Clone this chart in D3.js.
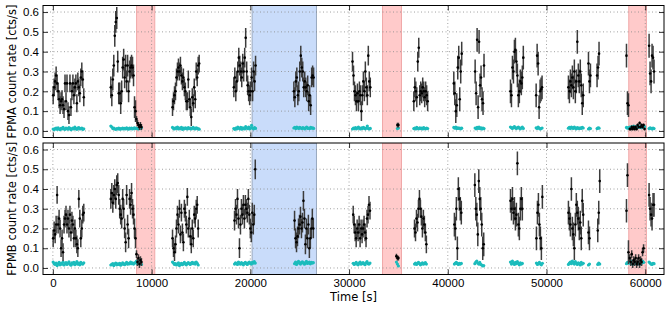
<!DOCTYPE html>
<html>
<head>
<meta charset="utf-8">
<script src="https://cdn.jsdelivr.net/npm/d3@7"></script>
<style>
  body { margin: 0; background: #fff; }
  svg { display: block; font-family: "DejaVu Sans", sans-serif; }
</style>
</head>
<body>
<div id="chart"></div>
<script>
// light curve bins are 100 s wide; each segment = one continuous stretch of bins
const binWidth = 100;

const xTicks = [0, 10000, 20000, 30000, 40000, 50000, 60000];
const yTicks = [0.0, 0.1, 0.2, 0.3, 0.4, 0.5, 0.6];

const redSpans = [[8480, 10320], [33390, 35310], [58330, 60120]];
const blueSpans = [[20180, 26700]];

// FPMA source + background
const fpmaStart = [30, 5870, 8470, 12120, 18330, 24410, 30350, 34900, 36560, 40610, 42770, 46350, 48950, 52220, 54250, 55120, 58100, 58430, 60390];
const fpmaErr = [0.045, 0.055, 0.015, 0.045, 0.05, 0.05, 0.05, 0.012, 0.05, 0.06, 0.06, 0.06, 0.06, 0.06, 0.06, 0.06, 0.06, 0.008, 0.06];
const fpmaRate = [
  [0.18,0.22,0.25,0.28,0.24,0.20,0.16,0.13,0.15,0.16,0.13,0.11,0.24,0.15,0.24,0.10,0.08,0.24,0.12,0.20,0.24,0.18,0.22,0.24,0.14,0.25,0.22,0.19,0.27,0.30,0.26,0.17],
  [0.22,0.18,0.26,0.33,0.48,0.55,0.57,0.35,0.19,0.19,0.14,0.20,0.32,0.36,0.27,0.33,0.25,0.33,0.20,0.30,0.32,0.33,0.32,0.28,0.12,0.10],
  [0.06,0.04,0.03,0.02,0.03,0.02],
  [0.12,0.15,0.18,0.20,0.27,0.30,0.32,0.30,0.33,0.28,0.25,0.27,0.22,0.20,0.15,0.15,0.26,0.16,0.12,0.07,0.17,0.14,0.22,0.16,0.30,0.27,0.33,0.34],
  [0.22,0.27,0.20,0.25,0.30,0.37,0.33,0.30,0.27,0.34,0.30,0.37,0.47,0.30,0.23,0.20,0.18,0.20,0.27,0.20,0.30,0.25,0.33],
  [0.20,0.17,0.25,0.27,0.18,0.20,0.30,0.38,0.32,0.30,0.22,0.25,0.22,0.20,0.23,0.15,0.18,0.13,0.27,0.28,0.27],
  [0.35,0.28,0.20,0.18,0.15,0.19,0.15,0.20,0.18,0.10,0.18,0.25,0.20,0.30,0.22,0.18,0.38,0.25,0.22],
  [0.03,0.03],
  [0.15,0.22,0.20,0.17,0.35,0.42,0.18,0.20,0.19,0.22,0.20,0.17,0.20,0.18,0.15],
  [0.24,0.19,0.10,0.13,0.32,0.37,0.16,0.30,0.39],
  [0.30,0.19,0.46,0.12,0.45,0.23,0.27,0.16,0.14,0.33],
  [0.20,0.18,0.32,0.30,0.40,0.41,0.35,0.28,0.18,0.20,0.25,0.24,0.27,0.37],
  [0.18,0.38,0.34,0.12,0.20,0.21,0.22],
  [0.22,0.20,0.25,0.23,0.27,0.22,0.30,0.20,0.25,0.45,0.28,0.25,0.30,0.23,0.14,0.18],
  [0.34,0.25,0.28],
  [0.28,0.32,0.39],
  [0.38,0.14,0.13],
  [0.01,0.01,0.02,0.01,0.02,0.01,0.02,0.01,0.03,0.02,0.04,0.02,0.03,0.02,0.03,0.01],
  [0.43,0.29,0.25,0.38,0.37,0.30]
];
const fpmaBkg = [
  [.010,.006,.012,.015,.008,.016,.010,.006,.013,.011,.018,.010,.008,.015,.012,.009,.017,.013,.006,.011,.015,.010,.019,.012,.008,.014,.017,.010,.012,.015,.008,.011],
  [.025,.020,.012,.015,.010,.008,.012,.010,.014,.009,.012,.010,.015,.011,.013,.010,.016,.012,.009,.014,.012,.015,.010,.013,.016,.012],
  [.015,.012,.010,.014,.012,.016],
  [.018,.012,.010,.016,.013,.020,.010,.015,.012,.018,.008,.014,.011,.016,.013,.010,.017,.012,.015,.010,.014,.018,.012,.010,.016,.013,.011,.009],
  [.012,.008,.015,.010,.020,.014,.011,.018,.009,.016,.013,.010,.022,.015,.012,.019,.010,.016,.028,.014,.011,.017,.013],
  [.015,.018,.012,.020,.016,.013,.018,.015,.012,.017,.014,.011,.016,.019,.013,.015,.012,.018,.014,.016,.013],
  [.010,.014,.012,.017,.011,.015,.020,.013,.010,.016,.012,.018,.014,.011,.015,.025,.012,.010,.013],
  [.012,.015],
  [.012,.015,.010,.018,.013,.011,.016,.012,.014,.010,.017,.013,.011,.015,.012],
  [.018,.014,.020,.012,.016,.013,.015,.011,.014],
  [.015,.011,.018,.013,.020,.012,.016,.010,.014,.012],
  [.020,.016,.013,.018,.022,.015,.012,.017,.020,.014,.011,.016,.019,.013],
  [.016,.013,.019,.014,.010,.012,.015],
  [.014,.018,.012,.020,.016,.013,.019,.015,.011,.017,.014,.012,.016,.013,.018,.015],
  [.010,.014,.012],
  [.012,.016,.014],
  [.018,.014,.016],
  [.020,.015,.022,.018,.025,.016,.019,.023,.017,.021,.018,.024,.016,.020,.019,.022],
  [.012,.016,.013,.010,.015,.012]
];

// FPMB source + background
const fpmbStart = [30, 5870, 8470, 12120, 18400, 24480, 30420, 34800, 36630, 40670, 42740, 46350, 48980, 52220, 54250, 55190, 58100, 58430, 60390];
const fpmbErr = [0.045, 0.05, 0.02, 0.045, 0.05, 0.05, 0.045, 0.012, 0.045, 0.06, 0.06, 0.06, 0.06, 0.06, 0.06, 0.06, 0.06, 0.02, 0.06];
const fpmbRate = [
  [0.15,0.19,0.17,0.22,0.37,0.22,0.25,0.20,0.10,0.15,0.08,0.22,0.25,0.27,0.22,0.25,0.20,0.27,0.18,0.24,0.22,0.15,0.20,0.15,0.12,0.10,0.35,0.25,0.15,0.20,0.27,0.28],
  [0.35,0.38,0.33,0.37,0.40,0.35,0.42,0.43,0.37,0.30,0.27,0.25,0.35,0.30,0.20,0.13,0.37,0.22,0.15,0.35,0.32,0.38,0.30,0.27,0.20,0.15],
  [0.07,0.03,0.05,0.02,0.04,0.03],
  [0.15,0.10,0.08,0.12,0.20,0.27,0.22,0.30,0.17,0.28,0.18,0.13,0.30,0.28,0.22,0.36,0.20,0.25,0.16,0.12,0.20,0.15,0.27,0.25,0.30,0.32,0.20],
  [0.24,0.30,0.27,0.35,0.25,0.10,0.22,0.30,0.27,0.32,0.25,0.32,0.30,0.28,0.35,0.27,0.20,0.18,0.28,0.22,0.27,0.50],
  [0.24,0.15,0.13,0.16,0.20,0.22,0.26,0.20,0.23,0.34,0.25,0.12,0.20,0.15,0.22,0.10,0.15,0.20,0.25,0.20],
  [0.27,0.22,0.18,0.15,0.20,0.18,0.22,0.15,0.20,0.17,0.20,0.22,0.18,0.15,0.25,0.27,0.32,0.29],
  [0.06,0.05,0.05],
  [0.20,0.18,0.25,0.23,0.30,0.35,0.30,0.26,0.20,0.25,0.22,0.18,0.12],
  [0.22,0.20,0.30,0.10,0.40,0.35,0.30,0.28],
  [0.42,0.30,0.27,0.17,0.44,0.35,0.30,0.22,0.10,0.12],
  [0.34,0.30,0.35,0.28,0.30,0.25,0.27,0.53,0.22,0.20,0.30,0.35,0.30],
  [0.15,0.28,0.32,0.22,0.15,0.10,0.36],
  [0.28,0.25,0.22,0.40,0.20,0.17,0.10,0.22,0.32,0.28,0.25,0.20,0.23,0.15,0.34,0.27],
  [0.18,0.15],
  [0.19,0.28,0.44],
  [0.29,0.47,0.08],
  [0.05,0.03,0.07,0.02,0.04,0.03,0.05,0.02,0.03,0.05,0.02,0.04,0.03,0.08,0.10],
  [0.37,0.30,0.27,0.25,0.32,0.32]
];
const fpmbBkg = [
  [.030,.022,.018,.025,.012,.020,.028,.016,.024,.019,.030,.015,.022,.027,.018,.024,.031,.020,.014,.026,.021,.029,.017,.023,.032,.019,.025,.016,.028,.022,.020,.026],
  [.015,.018,.022,.012,.020,.025,.016,.021,.018,.024,.014,.019,.026,.020,.017,.023,.028,.019,.024,.021,.030,.022,.026,.020,.024,.028],
  [.035,.020,.040,.025,.030,.018],
  [.030,.025,.018,.022,.015,.020,.026,.012,.019,.024,.017,.022,.028,.020,.016,.023,.027,.021,.018,.025,.029,.022,.026,.020,.030,.024,.015],
  [.020,.026,.022,.018,.030,.024,.019,.027,.022,.016,.025,.029,.021,.018,.026,.030,.023,.020,.028,.024,.032,.025],
  [.022,.030,.018,.026,.034,.024,.020,.028,.031,.025,.019,.027,.033,.023,.026,.030,.021,.029,.025,.027],
  [.024,.018,.022,.028,.020,.016,.025,.030,.019,.023,.027,.021,.017,.026,.032,.022,.020,.025],
  [.030,.020,.010],
  [.020,.025,.018,.022,.028,.024,.016,.021,.026,.019,.023,.027,.020],
  [.020,.025,.028,.022,.018,.024,.020,.023],
  [.022,.030,.035,.025,.020,.028,.018,.015,.010,.012],
  [.030,.020,.035,.025,.018,.028,.022,.032,.024,.016,.026,.020,.023],
  [.025,.018,.022,.028,.020,.016,.024],
  [.018,.025,.030,.022,.035,.028,.020,.032,.024,.018,.026,.022,.015,.028,.020,.024],
  [.015,.020],
  [.018,.025,.020],
  [.022,.028,.025],
  [.030,.022,.035,.018,.028,.040,.025,.020,.032,.026,.018,.030,.024,.035,.028],
  [.030,.025,.020,.018,.024,.022]
];

const W = 672, H = 311;
const left = 43, right = 664;

const svg = d3.select('#chart').append('svg')
    .attr('width', W)
    .attr('height', H);

const x = d3.scaleLinear()
    .domain([-1000, 61900])
    .range([left, right]);

// turn segment arrays into flat point lists
function toPoints(starts, errs, rates) {
    const pts = [];
    rates.forEach((seg, s) => {
        seg.forEach((r, i) => {
            pts.push({ t: starts[s] + i * binWidth, r: r, e: errs[s] });
        });
    });
    return pts;
}

function drawPanel(top, bottom, name, starts, errs, rates, bkg, showX) {
    const y = d3.scaleLinear()
        .domain([-0.033, 0.633])
        .range([bottom, top]);

    const g = svg.append('g');
    const clipId = 'clip-' + name;
    svg.append('clipPath').attr('id', clipId)
        .append('rect')
        .attr('x', left).attr('y', top)
        .attr('width', right - left).attr('height', bottom - top);

    const plot = g.append('g').attr('clip-path', `url(#${clipId})`);

    // shaded intervals
    const spans = redSpans.map(d => ({ a: d[0], b: d[1], fill: '#ffcaca', edge: '#f0a8a8' }))
        .concat(blueSpans.map(d => ({ a: d[0], b: d[1], fill: '#c9dcfa', edge: '#9aaabf' })));
    plot.selectAll('rect.span')
        .data(spans)
        .enter()
        .append('rect')
        .attr('class', 'span')
        .attr('x', d => x(d.a))
        .attr('y', top)
        .attr('width', d => x(d.b) - x(d.a))
        .attr('height', bottom - top)
        .attr('fill', d => d.fill)
        .attr('stroke', d => d.edge)
        .attr('stroke-width', 1);

    // dotted grid
    plot.append('g')
        .selectAll('line')
        .data(xTicks)
        .enter()
        .append('line')
        .attr('x1', d => x(d)).attr('x2', d => x(d))
        .attr('y1', top).attr('y2', bottom)
        .attr('stroke', '#8a8a8a')
        .attr('stroke-width', 0.8)
        .attr('stroke-dasharray', '1,2.5');
    plot.append('g')
        .selectAll('line')
        .data(yTicks)
        .enter()
        .append('line')
        .attr('x1', left).attr('x2', right)
        .attr('y1', d => y(d)).attr('y2', d => y(d))
        .attr('stroke', '#8a8a8a')
        .attr('stroke-width', 0.8)
        .attr('stroke-dasharray', '1,2.5');

    // background points (cyan)
    const bgPts = [];
    bkg.forEach((seg, s) => {
        seg.forEach((r, i) => bgPts.push({ t: starts[s] + i * binWidth, r: r }));
    });
    plot.append('g')
        .selectAll('circle')
        .data(bgPts)
        .enter()
        .append('circle')
        .attr('cx', d => x(d.t))
        .attr('cy', d => y(d.r))
        .attr('r', 1.6)
        .attr('fill', '#1cbcbc');

    // source points with error bars
    const pts = toPoints(starts, errs, rates);
    plot.append('g')
        .selectAll('line')
        .data(pts)
        .enter()
        .append('line')
        .attr('x1', d => x(d.t)).attr('x2', d => x(d.t))
        .attr('y1', d => y(d.r - d.e)).attr('y2', d => y(d.r + d.e))
        .attr('stroke', '#3c3c3c')
        .attr('stroke-width', 1.5);
    plot.append('g')
        .selectAll('circle')
        .data(pts)
        .enter()
        .append('circle')
        .attr('cx', d => x(d.t))
        .attr('cy', d => y(d.r))
        .attr('r', 1.3)
        .attr('fill', '#000');

    // axes: ticks inward on all four sides
    const tl = 5;
    g.append('g')
        .attr('transform', `translate(${left},0)`)
        .call(d3.axisLeft(y).tickValues(yTicks).tickFormat(d3.format('.1f')).tickSizeInner(-tl).tickSizeOuter(0).tickPadding(4))
        .call(a => a.select('.domain').remove())
        .selectAll('text').style('font-size', '11.5px');
    g.append('g')
        .attr('transform', `translate(${right},0)`)
        .call(d3.axisRight(y).tickValues(yTicks).tickFormat('').tickSizeInner(-tl).tickSizeOuter(0))
        .call(a => a.select('.domain').remove());
    g.append('g')
        .attr('transform', `translate(0,${top})`)
        .call(d3.axisTop(x).tickValues(xTicks).tickFormat('').tickSizeInner(-tl).tickSizeOuter(0))
        .call(a => a.select('.domain').remove());
    const xb = g.append('g')
        .attr('transform', `translate(0,${bottom})`)
        .call(d3.axisBottom(x).tickValues(xTicks).tickFormat(showX ? d3.format('d') : '').tickSizeInner(-tl).tickSizeOuter(0).tickPadding(4))
        .call(a => a.select('.domain').remove());
    xb.selectAll('text').style('font-size', '11.5px');

    g.selectAll('.tick line').attr('stroke', '#000').attr('stroke-width', 0.8);
    g.selectAll('.tick text').attr('fill', '#000');

    // frame
    g.append('rect')
        .attr('x', left).attr('y', top)
        .attr('width', right - left).attr('height', bottom - top)
        .attr('fill', 'none')
        .attr('stroke', '#000')
        .attr('stroke-width', 1);

    // y label
    g.append('text')
        .attr('transform', `translate(16,${(top + bottom) / 2}) rotate(-90)`)
        .attr('text-anchor', 'middle')
        .style('font-size', '11.5px')
        .text(name + ' count rate [cts/s]');
}

drawPanel(5.5, 137.5, 'FPMA', fpmaStart, fpmaErr, fpmaRate, fpmaBkg, false);
drawPanel(143, 274.5, 'FPMB', fpmbStart, fpmbErr, fpmbRate, fpmbBkg, true);

svg.append('text')
    .attr('x', (left + right) / 2)
    .attr('y', 301)
    .attr('text-anchor', 'middle')
    .style('font-size', '11.5px')
    .text('Time [s]');
</script>
</body>
</html>
